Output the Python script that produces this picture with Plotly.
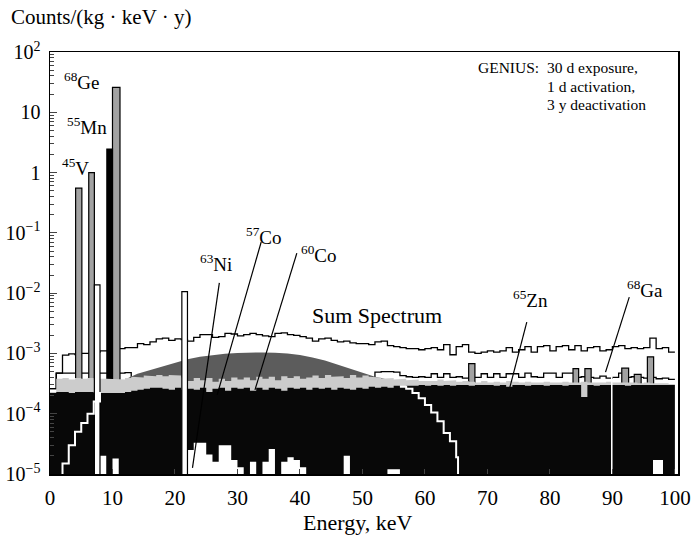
import math
import plotly.graph_objects as go

FLOOR = 1e-6          # polygons are closed below the visible axis range
bin_lo = list(range(0, 100))   # 1 keV bins, left edges

sum_spectrum = [
    2.6e-4, 4.7e-4, 9.4e-4, 9.8e-4, 9.6e-4, 1.0e-3, 1.0e-3, 1.05e-3, 1.1e-3, 1.1e-3,
    1.15e-3, 1.2e-3, 1.25e-3, 1.25e-3, 1.45e-3, 1.4e-3, 1.55e-3, 1.75e-3, 1.8e-3, 1.65e-3,
    1.75e-3, 1.7e-3, 1.6e-3, 1.85e-3, 2.05e-3, 2.05e-3, 1.85e-3, 1.9e-3, 2.15e-3, 2.1e-3,
    1.95e-3, 2.05e-3, 2.15e-3, 2.05e-3, 1.95e-3, 1.9e-3, 2.15e-3, 2.2e-3, 2.05e-3, 2.0e-3,
    1.9e-3, 1.8e-3, 1.6e-3, 1.75e-3, 1.8e-3, 1.65e-3, 1.55e-3, 1.6e-3, 1.5e-3, 1.45e-3,
    1.45e-3, 1.4e-3, 1.55e-3, 1.6e-3, 1.35e-3, 1.3e-3, 1.25e-3, 1.2e-3, 1.2e-3, 1.15e-3,
    1.2e-3, 1.25e-3, 1.15e-3, 1.4e-3, 9.5e-4, 1.3e-3, 1.4e-3, 1.05e-3, 1.0e-3, 1.05e-3,
    1.1e-3, 1.05e-3, 1.1e-3, 1.25e-3, 1.05e-3, 1.15e-3, 1.3e-3, 1.05e-3, 1.3e-3, 1.35e-3,
    1.1e-3, 1.3e-3, 1.35e-3, 1.15e-3, 1.35e-3, 1.1e-3, 1.25e-3, 1.3e-3, 1.1e-3, 1.15e-3,
    1.3e-3, 1.35e-3, 1.2e-3, 1.25e-3, 1.2e-3, 1.25e-3, 1.8e-3, 1.2e-3, 1.25e-3, 1.05e-3,
]

outline_bg = [
    2.6e-4, 4.7e-4, 4.7e-4, 4.7e-4, 4.7e-4, 4.7e-4, 4.7e-4, 4.7e-4, 4.7e-4, 4.7e-4,
    4.7e-4, 4.7e-4, 4.8e-4, 3.0e-4, 3.0e-4, 3.0e-4, 3.0e-4, 3.0e-4, 3.0e-4, 3.0e-4,
    3.0e-4, 3.0e-4, 3.0e-4, 3.0e-4, 3.0e-4, 3.0e-4, 3.0e-4, 3.0e-4, 3.0e-4, 3.0e-4,
    3.0e-4, 3.0e-4, 3.0e-4, 3.0e-4, 3.0e-4, 3.0e-4, 3.0e-4, 3.0e-4, 3.0e-4, 3.0e-4,
    3.0e-4, 3.0e-4, 3.0e-4, 3.0e-4, 3.0e-4, 3.0e-4, 3.0e-4, 3.0e-4, 3.0e-4, 3.0e-4,
    3.0e-4, 3.0e-4, 4.9e-4, 5.0e-4, 5.0e-4, 4.9e-4, 4.3e-4, 4.1e-4, 4.0e-4, 4.1e-4,
    4.0e-4, 4.6e-4, 4.0e-4, 4.6e-4, 4.0e-4, 4.1e-4, 3.9e-4, 4.0e-4, 4.0e-4, 4.6e-4,
    4.0e-4, 4.6e-4, 4.0e-4, 4.6e-4, 4.6e-4, 4.0e-4, 4.7e-4, 4.1e-4, 4.0e-4, 4.7e-4,
    4.7e-4, 4.0e-4, 4.7e-4, 4.7e-4, 4.0e-4, 4.1e-4, 4.0e-4, 3.9e-4, 4.2e-4, 3.9e-4,
    4.0e-4, 4.7e-4, 4.0e-4, 4.1e-4, 4.0e-4, 3.9e-4, 4.0e-4, 3.8e-4, 3.9e-4, 3.7e-4,
]

light_gray_bg = [
    2.3e-4, 3.8e-4, 3.9e-4, 3.7e-4, 3.9e-4, 3.8e-4, 3.9e-4, 3.7e-4, 3.8e-4, 3.8e-4,
    3.8e-4, 3.7e-4, 3.9e-4, 4.1e-4, 4.0e-4, 4.3e-4, 4.2e-4, 4.4e-4, 4.2e-4, 4.4e-4,
    4.3e-4, 4.0e-4, 3.5e-4, 3.9e-4, 3.6e-4, 3.9e-4, 3.4e-4, 3.8e-4, 3.5e-4, 4.0e-4,
    3.7e-4, 4.0e-4, 3.6e-4, 4.1e-4, 3.8e-4, 4.1e-4, 3.6e-4, 4.2e-4, 3.9e-4, 4.2e-4,
    3.8e-4, 4.0e-4, 4.3e-4, 3.9e-4, 4.4e-4, 4.1e-4, 4.2e-4, 3.9e-4, 4.4e-4, 4.0e-4,
    4.3e-4, 4.1e-4, 4.0e-4, 3.8e-4, 3.9e-4, 3.7e-4, 3.8e-4, 3.6e-4, 3.7e-4, 3.5e-4,
    3.6e-4, 3.5e-4, 3.7e-4, 3.5e-4, 3.6e-4, 3.4e-4, 3.5e-4, 3.4e-4, 3.3e-4, 3.5e-4,
    3.3e-4, 3.4e-4, 3.3e-4, 3.5e-4, 3.4e-4, 3.3e-4, 3.4e-4, 3.3e-4, 3.3e-4, 3.4e-4,
    3.3e-4, 3.3e-4, 3.4e-4, 3.3e-4, 3.3e-4, 3.4e-4, 3.3e-4, 3.3e-4, 3.3e-4, 3.4e-4,
    3.3e-4, 3.3e-4, 3.3e-4, 3.3e-4, 3.2e-4, 3.3e-4, 3.2e-4, 3.2e-4, 3.2e-4, 3.1e-4,
]

black_bg = [
    2.2e-4, 2.3e-4, 2.3e-4, 2.2e-4, 2.3e-4, 2.3e-4, 2.3e-4, 2.2e-4, 2.2e-4, 2.2e-4,
    2.2e-4, 2.2e-4, 2.3e-4, 2.4e-4, 2.5e-4, 2.6e-4, 2.7e-4, 2.7e-4, 2.6e-4, 2.5e-4,
    2.7e-4, 2.5e-4, 2.6e-4, 2.5e-4, 2.7e-4, 2.3e-4, 2.6e-4, 2.7e-4, 2.4e-4, 2.7e-4,
    2.6e-4, 2.7e-4, 2.4e-4, 2.7e-4, 2.5e-4, 2.7e-4, 2.6e-4, 2.4e-4, 2.7e-4, 2.6e-4,
    2.7e-4, 2.5e-4, 2.7e-4, 2.6e-4, 2.7e-4, 2.5e-4, 2.7e-4, 2.6e-4, 2.5e-4, 2.7e-4,
    2.6e-4, 2.8e-4, 2.7e-4, 2.8e-4, 2.7e-4, 2.9e-4, 2.8e-4, 2.9e-4, 2.9e-4, 3.0e-4,
    2.9e-4, 3.0e-4, 2.9e-4, 3.0e-4, 2.9e-4, 3.0e-4, 3.0e-4, 2.9e-4, 3.0e-4, 3.0e-4,
    3.0e-4, 2.9e-4, 3.0e-4, 2.8e-4, 3.0e-4, 3.0e-4, 2.9e-4, 3.0e-4, 3.0e-4, 2.9e-4,
    3.0e-4, 3.0e-4, 2.9e-4, 3.0e-4, 3.0e-4, 1.9e-4, 3.0e-4, 2.9e-4, 3.0e-4, 3.0e-4,
    3.0e-4, 3.0e-4, 2.9e-4, 3.0e-4, 3.0e-4, 3.0e-4, 3.0e-4, 3.0e-4, 3.0e-4, 3.0e-4,
]

# smooth dark-grey contribution (dome between ~12 and ~55 keV)
dome_E = [12.5, 14, 16, 18, 20, 22, 24, 26, 28, 30, 32, 34, 36, 38, 40, 42, 44, 46, 48, 50, 52, 54]
dome_val = [3.9e-4, 4.6e-4, 5.3e-4, 6.2e-4, 7.0e-4, 8.0e-4, 8.8e-4, 9.4e-4, 9.9e-4, 1.02e-3, 1.04e-3,
            1.04e-3, 1.03e-3, 1.0e-3, 9.4e-4, 8.6e-4, 7.6e-4, 6.5e-4, 5.5e-4, 4.7e-4, 4.1e-4, 3.7e-4]

# 63Ni spectrum (white step line), visible where it leaves the black background
ni63_left_E = [1, 2, 3, 4, 5, 6, 7, 8]
ni63_left_val = [5e-6, 1.5e-5, 3.0e-5, 5.0e-5, 7.0e-5, 1.0e-4, 1.6e-4, 2.3e-4]
ni63_right_E = [56, 57, 58, 59, 60, 61, 62, 63, 64, 65, 65.3]
ni63_right_val = [2.8e-4, 2.6e-4, 2.2e-4, 1.8e-4, 1.4e-4, 1.05e-4, 7.5e-5, 4.8e-5, 3.5e-5, 1.9e-5, 5e-6]

# grey peaks with black outline
peak_lo = [4.1, 6.2, 10.0, 67.0, 83.7, 85.6, 91.5, 93.5, 95.6]
peak_hi = [5.1, 7.1, 11.2, 68.0, 84.6, 86.6, 92.6, 94.6, 96.6]
peak_val = [0.55, 1.0, 25.9, 6.8e-4, 5.6e-4, 5.6e-4, 5.7e-4, 4.5e-4, 8.8e-4]
# black 55Mn peak
mn_lo, mn_hi, mn_val = [9.1], [10.0], [2.46]
# white peaks with outline (cut through the background)
wpk_lo = [7.1, 21.1]
wpk_hi = [8.0, 22.0]
wpk_val = [0.0137, 0.0106]
# white low-count bins at the bottom of the black background
low_lo = [8, 10, 22, 23, 24, 25, 26, 27, 28, 29, 30, 32, 34, 35, 37, 38, 39, 40, 47, 54, 55, 96.5]
low_hi = [9, 11, 23, 24, 25, 26, 27, 28, 29, 30, 31, 33, 35, 36, 38, 39, 40, 41, 48, 55, 56, 98.1]
low_val = [2.0e-5, 1.8e-5, 2.5e-5, 3.3e-5, 3.3e-5, 2.1e-5, 1.6e-5, 3.0e-5, 3.0e-5, 1.7e-5, 1.3e-5,
           1.6e-5, 1.6e-5, 2.6e-5, 1.6e-5, 1.9e-5, 1.7e-5, 1.3e-5, 2.0e-5, 1.2e-5, 1.2e-5, 1.7e-5]
# thin white gap line in the background
gap_E, gap_w, gap_val = [89.9], [0.25], [4.4e-4]

FONT = "Liberation Serif, Times New Roman, serif"


def step_polygon(lo, vals, width=1.0):
    xs, ys = [lo[0]], [FLOOR]
    for x, v in zip(lo, vals):
        xs += [x, x + width]
        ys += [v, v]
    xs.append(lo[-1] + width)
    ys.append(FLOOR)
    return xs, ys


def step_line(lo, vals, width=1.0):
    return list(lo) + [lo[-1] + width], list(vals) + [vals[-1]]


def rects(los, his, vals):
    xs, ys = [], []
    for a, b, v in zip(los, his, vals):
        xs += [a, a, b, b, a, None]
        ys += [FLOOR, v, v, FLOOR, FLOOR, None]
    return xs, ys


fig = go.Figure()

# sum spectrum outline
x, y = step_line(bin_lo, sum_spectrum)
fig.add_trace(go.Scatter(x=x, y=y, mode="lines", line=dict(color="black", width=1.3, shape="hv"),
                         hoverinfo="skip"))
# lower outline
x, y = step_line(bin_lo, outline_bg)
fig.add_trace(go.Scatter(x=x, y=y, mode="lines", line=dict(color="black", width=1.3, shape="hv"),
                         hoverinfo="skip"))
# grey peaks
x, y = rects(peak_lo, peak_hi, peak_val)
fig.add_trace(go.Scatter(x=x, y=y, mode="lines", fill="toself", fillcolor="#a2a2a2",
                         line=dict(color="black", width=1.2), hoverinfo="skip"))
x, y = rects(mn_lo, mn_hi, mn_val)
fig.add_trace(go.Scatter(x=x, y=y, mode="lines", fill="toself", fillcolor="black",
                         line=dict(color="black", width=1.2), hoverinfo="skip"))
# dark grey dome
fig.add_trace(go.Scatter(x=[dome_E[0]] + dome_E + [dome_E[-1], dome_E[0]],
                         y=[FLOOR] + dome_val + [FLOOR, FLOOR], mode="lines", fill="toself",
                         fillcolor="#5c5c5c", line=dict(width=0), hoverinfo="skip"))
# light grey background
x, y = step_polygon(bin_lo, light_gray_bg)
fig.add_trace(go.Scatter(x=x, y=y, mode="lines", fill="toself", fillcolor="#cccccc",
                         line=dict(width=0), hoverinfo="skip"))
# black background
x, y = step_polygon(bin_lo, black_bg)
fig.add_trace(go.Scatter(x=x, y=y, mode="lines", fill="toself", fillcolor="#080808",
                         line=dict(width=0), hoverinfo="skip"))
# white low bins
x, y = rects(low_lo, low_hi, low_val)
fig.add_trace(go.Scatter(x=x, y=y, mode="lines", fill="toself", fillcolor="white",
                         line=dict(width=0), hoverinfo="skip"))
# white gap line
x, y = rects([e - w / 2 for e, w in zip(gap_E, gap_w)], [e + w / 2 for e, w in zip(gap_E, gap_w)], gap_val)
fig.add_trace(go.Scatter(x=x, y=y, mode="lines", fill="toself", fillcolor="white",
                         line=dict(width=0), hoverinfo="skip"))
# white outlined peaks
x, y = rects(wpk_lo, wpk_hi, wpk_val)
fig.add_trace(go.Scatter(x=x, y=y, mode="lines", fill="toself", fillcolor="white",
                         line=dict(color="black", width=1.2), hoverinfo="skip"))
# 63Ni white staircases
fig.add_trace(go.Scatter(x=ni63_left_E, y=ni63_left_val, mode="lines",
                         line=dict(color="white", width=2, shape="hv"), hoverinfo="skip"))
fig.add_trace(go.Scatter(x=ni63_right_E, y=ni63_right_val, mode="lines",
                         line=dict(color="white", width=2, shape="hv"), hoverinfo="skip"))

# isotope labels: (text, label E, label value, pointer start, pointer end)
labels = [
    ("<sup>68</sup>Ge", 5.1, 33.0, None, None),
    ("<sup>55</sup>Mn", 5.9, 5.9, None, None),
    ("<sup>45</sup>V", 4.1, 1.24, None, None),
    ("<sup>63</sup>Ni", 26.6, 3.2e-2, (27.1, 1.48e-2), (22.8, 1.26e-5)),
    ("<sup>57</sup>Co", 34.2, 8.9e-2, (33.8, 7.06e-2), (26.75, 2.05e-4)),
    ("<sup>60</sup>Co", 43.0, 4.5e-2, (39.5, 4.6e-2), (32.8, 2.48e-4)),
    ("<sup>65</sup>Zn", 76.9, 8.0e-3, (76.3, 3.3e-3), (73.6, 2.77e-4)),
    ("<sup>68</sup>Ga", 95.2, 1.17e-2, (92.7, 8.6e-3), (88.9, 4.9e-4)),
]
for text, lx, ly, p0, p1 in labels:
    fig.add_annotation(x=lx, y=math.log10(ly), text=text, showarrow=False, xanchor="center",
                       yanchor="middle", font=dict(family=FONT, size=19, color="black"))
    if p0 is not None:
        fig.add_trace(go.Scatter(x=[p0[0], p1[0]], y=[p0[1], p1[1]], mode="lines",
                                 line=dict(color="black", width=1.2), hoverinfo="skip"))

fig.add_annotation(x=52.4, y=math.log10(4.18e-3), text="Sum Spectrum", showarrow=False,
                   font=dict(family=FONT, size=22, color="black"))
fig.add_annotation(x=78.6, y=math.log10(54.3), text="GENIUS:", showarrow=False, xanchor="right",
                   font=dict(family=FONT, size=15.5, color="black"))
for txt, yv in [("30 d exposure,", 54.3), ("1 d activation,", 26.8), ("3 y deactivation", 13.5)]:
    fig.add_annotation(x=79.2, y=math.log10(yv), text=txt, showarrow=False, xanchor="left",
                       font=dict(family=FONT, size=15.5, color="black"))

fig.add_annotation(xref="paper", yref="paper", x=-0.066, y=1.083, text="Counts/(kg · keV · y)",
                   showarrow=False, xanchor="left", yanchor="middle",
                   font=dict(family=FONT, size=21, color="black"))
fig.add_annotation(xref="paper", yref="paper", x=0.49, y=-0.114, text="Energy, keV",
                   showarrow=False, xanchor="center", yanchor="middle",
                   font=dict(family=FONT, size=22, color="black"))

y_ticks = [1e-5, 1e-4, 1e-3, 1e-2, 1e-1, 1, 10, 100]
y_ticktext = ["10<sup>\u22125</sup>", "10<sup>\u22124</sup>", "10<sup>\u22123</sup>", "10<sup>\u22122</sup>",
              "10<sup>\u22121</sup>", "1", "10", "10<sup>2</sup>"]
y_minor = [m * d for d in [1e-5, 1e-4, 1e-3, 1e-2, 1e-1, 1, 10] for m in range(2, 10)]
x_ticks = list(range(0, 101, 10))

fig.update_layout(
    width=693, height=539, showlegend=False,
    margin=dict(l=50, r=15, t=52, b=65),
    paper_bgcolor="white", plot_bgcolor="white",
    font=dict(family=FONT, size=20, color="black"),
    xaxis=dict(range=[0, 100.5], tickvals=x_ticks, ticks="inside", ticklen=5, showgrid=False,
               zeroline=False, showline=True, linecolor="black", linewidth=1.5, mirror=True,
               tickfont=dict(family=FONT, size=21), ticklabelstandoff=4, automargin=False),
    yaxis=dict(type="log", range=[-5, 2], tickvals=y_ticks, ticktext=y_ticktext, ticks="inside",
               ticklen=7, showgrid=False, zeroline=False, showline=True, linecolor="black",
               linewidth=1.5, mirror=True, tickfont=dict(family=FONT, size=20), automargin=False,
               ticklabelstandoff=4,
               minor=dict(tickvals=y_minor, ticks="inside", ticklen=4, showgrid=False)),
)

# remove the default page margin so the figure fills the window exactly
fig.write_html("out.html", post_script="document.body.style.margin='0';",
               config={"displayModeBar": False, "staticPlot": True})
